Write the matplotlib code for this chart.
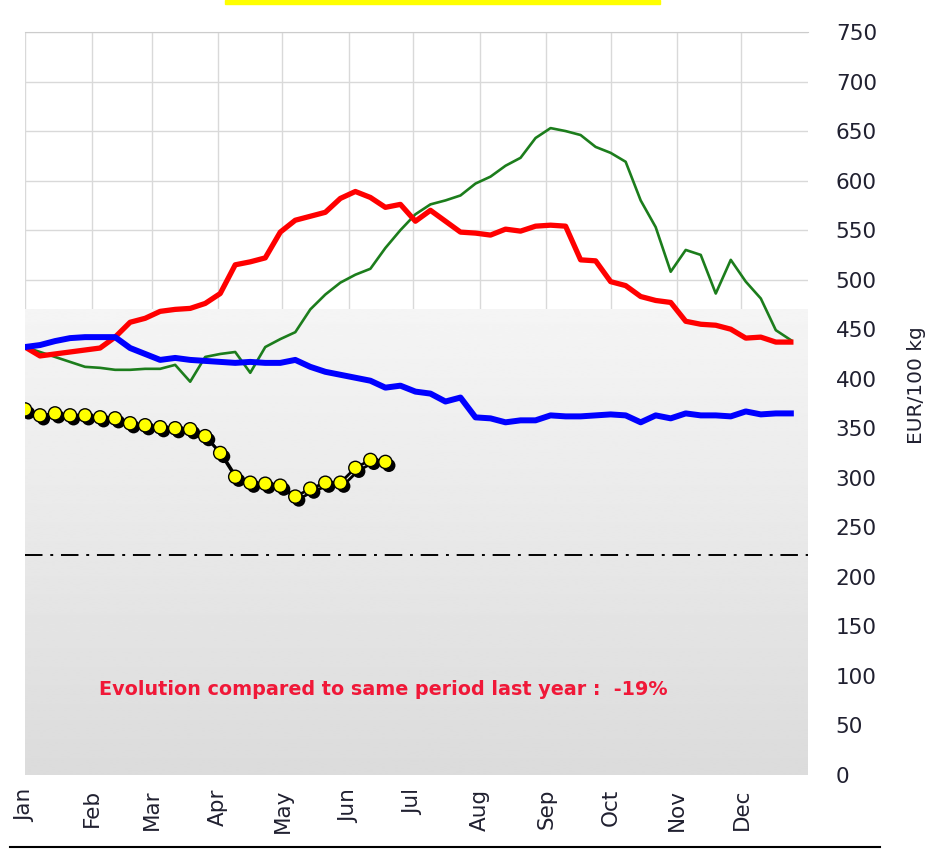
import numpy as np
import matplotlib
matplotlib.use('Agg')
import matplotlib.pyplot as plt
import matplotlib.patheffects as pe
from matplotlib.lines import Line2D
from matplotlib.patches import Rectangle

months = ['Jan', 'Feb', 'Mar', 'Apr', 'May', 'Jun',
          'Jul', 'Aug', 'Sep', 'Oct', 'Nov', 'Dec']
month_start = [0, 31, 59, 90, 120, 151, 181, 212, 243, 273, 304, 334]

# weekly prices, EUR/100 kg
red = [432, 423, 425, 427, 429, 431, 442, 457, 461, 468, 470, 471, 476,
       486, 515, 518, 522, 548, 560, 564, 568, 582, 589, 583, 573, 576,
       559, 570, 559, 548, 547, 545, 551, 549, 554, 555, 554, 520, 519,
       498, 494, 483, 479, 477, 458, 455, 454, 450, 441, 442, 437, 437]
green = [432, 427, 422, 417, 412, 411, 409, 409, 410, 410, 414, 397, 422,
         425, 427, 406, 432, 440, 447, 470, 485, 497, 505, 511, 532, 550,
         566, 576, 580, 585, 597, 604, 615, 623, 643, 653, 650, 646, 634,
         628, 619, 580, 553, 508, 530, 525, 486, 520, 498, 481, 449, 439]
blue = [432, 434, 438, 441, 442, 442, 442, 431, 425, 419, 421, 419, 418,
        417, 416, 417, 416, 416, 419, 412, 407, 404, 401, 398, 391, 393,
        387, 385, 377, 381, 361, 360, 356, 358, 358, 363, 362, 362, 363,
        364, 363, 356, 363, 360, 365, 363, 363, 362, 367, 364, 365, 365]
current = [369, 363, 365, 363, 363, 361, 360, 355, 353, 351, 350, 349, 342,
           325, 301, 295, 294, 292, 281, 289, 295, 295, 310, 318, 316]
ref_level = 222
note = 'Evolution compared to same period last year :  -19%'

weeks = np.arange(len(red))
days = weeks * 7
cur_days = np.arange(len(current)) * 7

fig = plt.figure(figsize=(9.36, 8.5), dpi=100)
ax = fig.add_axes([25/936, 1 - 775/850, 783/936, 743/850])

ax.set_axisbelow(True)
ax.grid(True, color='#d9d9d9', linewidth=1)

# grey shading over the lower part of the plot
shade = np.linspace(0.86, 0.96, 200).reshape(-1, 1)
ax.imshow(shade, cmap='gray', vmin=0, vmax=1, origin='lower', aspect='auto',
          extent=[0, 365, 0, 470], zorder=1, interpolation='bilinear')

ax.axhline(ref_level, color='black', linewidth=1.4,
           dashes=(9, 4, 1.5, 4), zorder=2)

ax.plot(days, green, color='#1c7d1c', linewidth=1.9, zorder=3)
ax.plot(days, red, color='#ff0000', linewidth=3.8, zorder=4)
ax.plot(days, blue, color='#0000ff', linewidth=4.3, zorder=5)

ax.plot(cur_days, current, color='black', linewidth=2, zorder=6,
        path_effects=[pe.SimpleLineShadow(offset=(2, -2), shadow_color='k',
                                          alpha=1), pe.Normal()])
ax.plot(cur_days, current, linestyle='none', marker='o', markersize=9.5,
        markerfacecolor='#ffff00', markeredgecolor='black',
        markeredgewidth=1, zorder=7,
        path_effects=[pe.SimplePatchShadow(offset=(2.5, -2.5),
                                           shadow_rgbFace='k', alpha=1),
                      pe.Normal()])

ax.text(167, 86, note, color='#f01838', fontsize=13.8, fontweight='bold',
        ha='center', va='center', zorder=8)

ax.set_xlim(0, 365)
ax.set_ylim(0, 750)
ax.set_xticks(month_start)
ax.set_xticklabels(months, rotation=90, fontsize=15.5, color='#202030')
ax.set_yticks(np.arange(0, 751, 50))
ax.yaxis.tick_right()
ax.yaxis.set_label_position('right')
ax.tick_params(axis='y', length=0, pad=20, labelsize=15.5, labelcolor='#202030')
ax.tick_params(axis='x', length=0, pad=10)
ax.set_ylabel('EUR/100 kg', fontsize=14.5, color='#202030')
ax.yaxis.set_label_coords(1.126, 0.525)

for side in ['left', 'bottom', 'right']:
    ax.spines[side].set_visible(False)
ax.spines['top'].set_color('#cccccc')

# bits of the surrounding page
fig.patches.append(Rectangle((225/936, 1 - 4/850), 435/936, 4/850,
                             transform=fig.transFigure, color='#ffff00'))
fig.lines.append(Line2D([10/936, 880/936], [1 - 847/850, 1 - 847/850],
                        transform=fig.transFigure, color='black',
                        linewidth=1.5))

fig.savefig('out.png', dpi=100)
